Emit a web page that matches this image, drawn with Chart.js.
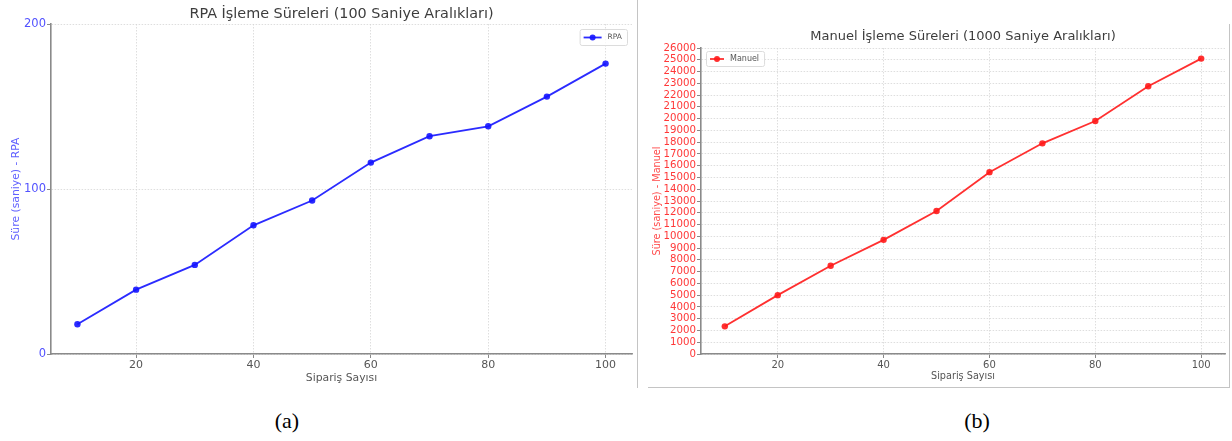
<!DOCTYPE html>
<html>
<head>
<meta charset="utf-8">
<script src="https://cdn.jsdelivr.net/npm/chart.js@4.4.1/dist/chart.umd.min.js"></script>
<style>
body{margin:0;width:1232px;height:441px;background:#fff;position:relative;overflow:hidden;font-family:"DejaVu Sans",sans-serif}
#frameA{position:absolute;left:0;top:0;width:637px;height:388px;border-right:1px solid #c4c4c4}
#frameB{position:absolute;left:648px;top:24px;width:581px;height:363px;border-right:1px solid #c4c4c4;border-bottom:1px solid #c4c4c4}
#chartA{position:absolute;left:0;top:0}
#chartB{position:absolute;left:640px;top:0}
.cap{position:absolute;top:408px;font-family:"Liberation Serif",serif;font-size:22px;color:#000;width:60px;text-align:center}
</style>
</head>
<body>
<div id="frameA"></div>
<div id="frameB"></div>
<canvas id="chartA" width="637" height="390"></canvas>
<canvas id="chartB" width="589" height="390"></canvas>
<div class="cap" style="left:257px">(a)</div>
<div class="cap" style="left:947px">(b)</div>
<script>

// veriler
const siparisSayisi = [10,20,30,40,50,60,70,80,90,100];
const rpaSure = [18,39,54,78,93,116,132,138,156,176];
const manuelSure = [2350,5000,7500,9700,12150,15450,17900,19800,22750,25100];

const xTicks = [20,40,60,80,100];
const rpaYTicks = [0,100,200];
const manuelYTicks = [0,1000,2000,3000,4000,5000,6000,7000,8000,9000,10000,11000,12000,13000,
14000,15000,16000,17000,18000,19000,20000,21000,22000,23000,24000,25000,26000];

function points(xs,ys){
return xs.map(function(x,i){ return {x:x,y:ys[i]}; });
}

/* title + legend drawn over the plot area */
const panelDeco = {
id:'panelDeco',
afterDraw:function(chart,args,opts){
const ctx = chart.ctx;
const area = chart.chartArea;
ctx.save();

// title
ctx.font = opts.titleSize+'px "DejaVu Sans"';
ctx.fillStyle = '#3d3d3d';
ctx.textAlign = 'center';
ctx.textBaseline = 'middle';
ctx.fillText(opts.title,(area.left+area.right)/2,area.top-opts.titleOffset);

// legend box
const ds = chart.data.datasets[0];
ctx.font = opts.legendSize+'px "DejaVu Sans"';
const tw = ctx.measureText(ds.label).width;
const w = 4 + opts.lineLen + 6 + tw + 5;
const h = opts.legendH;
let bx = opts.align=='right' ? area.right - 5 - w : area.left + 5;
let by = area.top + opts.legendTop;

ctx.fillStyle = 'rgba(255,255,255,0.8)';
ctx.strokeStyle = '#dcdcdc';
ctx.lineWidth = 1;
ctx.beginPath();
ctx.roundRect(bx+0.5,by+0.5,w,h,2);
ctx.fill();
ctx.stroke();

let ly = by + h/2 + 0.5;
ctx.strokeStyle = ds.borderColor;
ctx.lineWidth = 1.8;
ctx.beginPath();
ctx.moveTo(bx+4,ly);
ctx.lineTo(bx+4+opts.lineLen,ly);
ctx.stroke();
ctx.fillStyle = ds.pointBackgroundColor;
ctx.beginPath();
ctx.arc(bx+4+opts.lineLen/2,ly,3,0,Math.PI*2);
ctx.fill();

ctx.fillStyle = '#555';
ctx.textAlign = 'left';
ctx.fillText(ds.label,bx+4+opts.lineLen+6,ly);
ctx.restore();
}
};

function makePanel(canvas,cfg){

return new Chart(canvas,{
type:'line',
data:{
datasets:[{
label:cfg.label,
data:points(siparisSayisi,cfg.values),
borderColor:cfg.lineColor,
backgroundColor:cfg.lineColor,
pointBackgroundColor:cfg.lineColor,
pointBorderWidth:0,
borderWidth:1.8,
pointRadius:3.2,
tension:0
}]
},
plugins:[panelDeco],
options:{
responsive:false,
animation:false,
devicePixelRatio:1,
layout:{padding:{top:cfg.top,right:cfg.right,bottom:0,left:0}},
plugins:{
legend:{display:false},
tooltip:{enabled:false},
panelDeco:{
title:cfg.title,
titleSize:cfg.titleSize,
titleOffset:cfg.titleOffset,
align:cfg.legendAlign,
legendSize:cfg.legendSize,
legendTop:cfg.legendTop,
legendH:cfg.legendH,
lineLen:cfg.lineLen
}
},
scales:{
x:{
type:'linear',
min:5.5,
max:104.5,
afterBuildTicks:function(scale){
scale.ticks = xTicks.map(function(v){ return {value:v}; });
},
afterFit:function(scale){ scale.height = 36; },
grid:{color:'#d6d6d6',lineWidth:0.8,tickColor:'#888',tickLength:4,tickWidth:1},
border:{color:'#8a8a8a',width:1.6,dash:[1.5,1.5]},
ticks:{color:'#555',font:{family:'DejaVu Sans',size:cfg.tickSize},padding:1,maxRotation:0,
callback:function(v){ return String(v); }},
title:{display:true,text:'Sipariş Sayısı',color:'#555',font:{family:'DejaVu Sans',size:cfg.axisSize},padding:{top:0,bottom:cfg.xTitlePad}}
},
y:{
type:'linear',
min:0,
max:cfg.yTicks[cfg.yTicks.length-1],
afterBuildTicks:function(scale){
scale.ticks = cfg.yTicks.map(function(v){ return {value:v}; });
},
afterFit:function(scale){ scale.width = cfg.yWidth; },
grid:{color:'#d6d6d6',lineWidth:0.8,tickColor:'#888',tickLength:4,tickWidth:1},
border:{color:'#8a8a8a',width:1.6,dash:[1.5,1.5]},
ticks:{color:cfg.tickColor,font:{family:'DejaVu Sans',size:cfg.yTickSize},padding:1,autoSkip:false,
callback:function(v){ return String(v); }},
title:{display:true,text:cfg.yTitle,color:cfg.yTitleColor,font:{family:'DejaVu Sans',size:cfg.axisSize},padding:{top:cfg.yTitlePad,bottom:0}}
}
}
}
});
}

makePanel(document.getElementById('chartA'),{
label:'RPA',
values:rpaSure,
lineColor:'rgba(20,20,255,0.9)',
title:'RPA İşleme Süreleri (100 Saniye Aralıkları)',
titleSize:14.4,
titleOffset:10,
top:24,
right:5,
yWidth:51,
yTicks:rpaYTicks,
yTitle:'Süre (saniye) - RPA',
tickColor:'#5252ff',
yTitleColor:'#6060ff',
tickSize:11,
yTickSize:11.5,
axisSize:10.8,
xTitlePad:5.5,
yTitlePad:9.5,
legendAlign:'right',
legendSize:7.5,
legendTop:5,
legendH:16,
lineLen:18
});

makePanel(document.getElementById('chartB'),{
label:'Manuel',
values:manuelSure,
lineColor:'rgba(255,25,25,0.9)',
title:'Manuel İşleme Süreleri (1000 Saniye Aralıkları)',
titleSize:13,
titleOffset:11,
top:48,
right:4,
yWidth:61,
yTicks:manuelYTicks,
yTitle:'Süre (saniye) - Manuel',
tickColor:'#ff3838',
yTitleColor:'#ff4a4a',
tickSize:10,
yTickSize:10.2,
axisSize:9.7,
xTitlePad:8,
yTitlePad:12,
legendAlign:'left',
legendSize:8,
legendTop:3,
legendH:15,
lineLen:14
});

</script>
</body>
</html>
